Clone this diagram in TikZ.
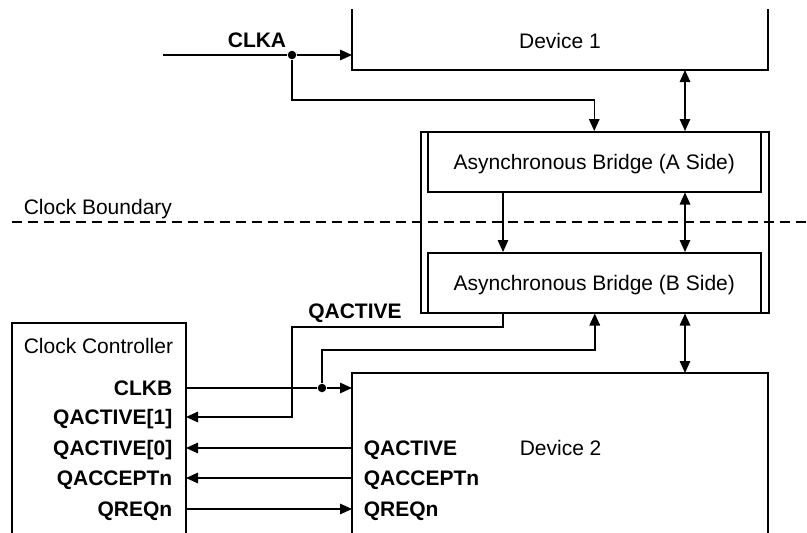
\documentclass[tikz,border=0pt]{standalone}
\usepackage{fontspec}
\setmainfont{Liberation Sans}
\usetikzlibrary{arrows.meta}
\begin{document}
\begin{tikzpicture}[x=1pt,y=-1pt,line width=1.5pt,
  >={Triangle[length=12pt,width=10.5pt]},
  txt/.style={font=\fontsize{21}{24}\selectfont,inner sep=0pt,text height=15pt,text depth=0pt},
  lbl/.style={txt,font=\fontsize{21}{24}\selectfont\bfseries},
  box/.style={draw,inner sep=0pt,text height=15pt,text depth=0pt,font=\fontsize{21}{24}\selectfont},
  openbox/.style={inner sep=0pt,outer sep=0pt,anchor=north west},
  dotj/.style={circle,fill,inner sep=0pt,minimum size=8.5pt},
  boundary/.style={dash pattern=on 10pt off 6pt}]
\useasboundingbox (0,0) rectangle (807,533);

% Device 1 (open at top)
\node[openbox,minimum width=416pt,minimum height=61pt] (dev1) at (352,9) {};
\node[txt] (dev1t) at (560,40.5) {Device 1};
\draw (dev1.north west) -- (dev1.south west) -- (dev1.south east) -- (dev1.north east);

% Bridge
\node[box,minimum width=348pt,minimum height=181pt,anchor=north west] (br) at (420,131) {};
\node[box,minimum width=333pt,minimum height=60pt,anchor=north west] (bA) at (427,131) {Asynchronous Bridge (A Side)};
\node[box,minimum width=333pt,minimum height=60pt,anchor=north west] (bB) at (427,252) {Asynchronous Bridge (B Side)};

% Device 2 (open at bottom)
\node[openbox,minimum width=416pt,minimum height=160pt] (dev2) at (352,373) {};
\draw (dev2.south west) -- (dev2.north west) -- (dev2.north east) -- (dev2.south east);
\node[txt,anchor=west] (dev2t) at (519,448) {Device 2};

% Clock controller (open at bottom)
\node[openbox,minimum width=174pt,minimum height=210pt] (cc) at (12,323) {};
\draw (cc.south west) -- (cc.north west) -- (cc.north east) -- (cc.south east);
\node[txt,anchor=west] (cct) at (23,345.5) {Clock Controller};

% Clock boundary
\coordinate (cbl) at (12,222);
\coordinate (cbr) at (807,222);
\draw[boundary] (cbl) -- (cbr);
\node[txt,anchor=west] (cbt) at (23,206.5) {Clock Boundary};

% shared x positions
\coordinate (busx) at (685,0);
\coordinate (ax) at (503,0);

% CLKA
\coordinate (clkin) at (163,55);
\node[dotj] (ja) at (292,55) {};
\node[lbl] (clka) at (257,40) {CLKA};
\draw (clkin) -- (ja);
\draw[->] (ja) -- (ja -| dev1.west);
\coordinate (ka) at (292,100);
\draw[->] (ja) -- (ka) -| (bA.north);

% buses
\draw[<->] (dev1.south -| busx) -- (br.north -| busx);
\draw[<->] (bA.south -| busx) -- (bB.north -| busx);
\draw[<->] (br.south -| busx) -- (dev2.north -| busx);
\draw[->] (bA.south -| ax) -- (bB.north -| ax);

% Clock controller labels
\node[lbl,anchor=east] (lclkb) at (173,388) {CLKB};
\node[lbl,anchor=east] (lqa1) at (173,417) {QACTIVE[1]};
\node[lbl,anchor=east] (lqa0) at (173,448) {QACTIVE[0]};
\node[lbl,anchor=east] (lqacc) at (173,478) {QACCEPTn};
\node[lbl,anchor=east] (lqreq) at (173,509) {QREQn};

% Device 2 labels
\node[lbl,anchor=west] (dqa) at (363,448) {QACTIVE};
\node[lbl,anchor=west] (dqacc) at (363,478) {QACCEPTn};
\node[lbl,anchor=west] (dqreq) at (363,509) {QREQn};

% QACTIVE from bridge
\node[lbl] (qat) at (355,311) {QACTIVE};
\coordinate (kq) at (292,327);
\draw[->] (bB.south -| ax) |- (kq) -- (kq |- lqa1) -- (lqa1 -| cc.east);

% CLKB
\node[dotj] (jb) at (322,388) {};
\draw (lclkb -| cc.east) -- (jb);
\draw[->] (jb) -- (jb -| dev2.west);
\coordinate (kb) at (322,350);
\draw[->] (jb) -- (kb) -| (br.south);

% Q-channel wires
\draw[->] (lqa0 -| dev2.west) -- (lqa0 -| cc.east);
\draw[->] (lqacc -| dev2.west) -- (lqacc -| cc.east);
\draw[->] (lqreq -| cc.east) -- (lqreq -| dev2.west);
\end{tikzpicture}
\end{document}
